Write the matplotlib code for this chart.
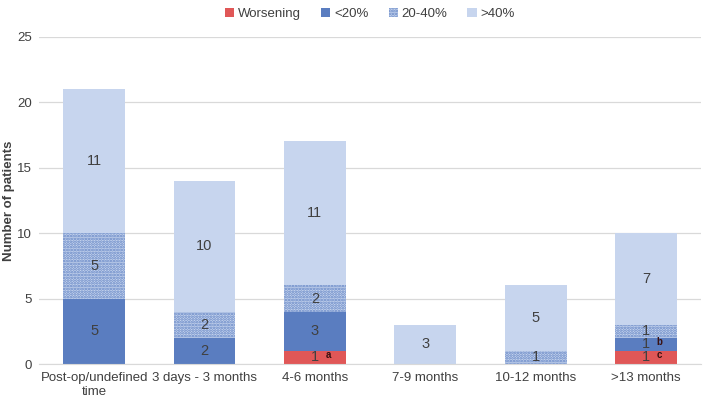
import matplotlib.pyplot as plt
import numpy as np

# chart data
categories = ["Post-op/undefined\ntime", "3 days - 3 months", "4-6 months",
              "7-9 months", "10-12 months", ">13 months"]
worsening = [0, 0, 1, 0, 0, 1]
under20 = [5, 2, 3, 0, 0, 1]
mid20_40 = [5, 2, 2, 0, 1, 1]
over40 = [11, 10, 11, 3, 5, 7]
notes = {(0, 2): "a", (1, 5): "b", (0, 5): "c"}  # (series, category): superscript

series = [worsening, under20, mid20_40, over40]
names = ["Worsening", "<20%", "20-40%", ">40%"]
colors = ["#E05757", "#5A7DC0", "#C7D5EE", "#C7D5EE"]

plt.rcParams['font.family'] = ['Liberation Sans', 'DejaVu Sans']
plt.rcParams['hatch.linewidth'] = 1.3
fig = plt.figure(figsize=(7.09, 4.04), dpi=100)
ax = fig.add_axes([0.055, 0.099, 0.934, 0.81])

x = np.arange(len(categories))
w = 0.56
bottom = np.zeros(len(categories))
for i, vals in enumerate(series):
    vals = np.array(vals)
    if i == 2:
        ax.bar(x, vals, w, bottom=bottom, color="#C7D5EE", edgecolor="#6384C4",
               hatch="......", linewidth=0, label=names[i], zorder=2)
    else:
        ax.bar(x, vals, w, bottom=bottom, color=colors[i], linewidth=0,
               label=names[i], zorder=2)
    for j, v in enumerate(vals):
        if v > 0:
            yc = bottom[j] + v / 2
            ax.text(x[j], yc, str(v), ha="center", va="center", fontsize=10.5,
                    color="#404040", zorder=3)
            if (i, j) in notes:
                ax.text(x[j] + 0.12, yc + 0.18, notes[(i, j)], ha="center", va="center",
                        fontsize=7, fontweight="bold", color="#3a1010", zorder=3)
    bottom += vals

ax.set_xlim(-0.5, len(categories) - 0.5)
ax.set_ylim(0, 25)
ax.set_yticks(range(0, 26, 5))
ax.set_xticks(x)
ax.set_xticklabels(categories, fontsize=9.5, color="#404040")
ax.tick_params(axis="y", labelsize=9.5, colors="#404040", length=0, pad=5)
ax.tick_params(axis="x", length=0, pad=6)
ax.grid(axis="y", color="#D9D9D9", linewidth=0.9, zorder=0)
for s in ["top", "right", "left"]:
    ax.spines[s].set_visible(False)
ax.spines["bottom"].set_color("#D9D9D9")
ax.set_ylabel("Number of patients", fontsize=9.5, fontweight="bold", color="#404040")
ax.yaxis.set_label_coords(-0.036, 0.5)

ax.legend(loc="upper center", bbox_to_anchor=(0.5, 1.125), ncol=4, frameon=False,
          fontsize=9.5, handlelength=0.7, handleheight=0.7, columnspacing=1.5,
          handletextpad=0.3, labelcolor="#404040")

fig.savefig("out.png", dpi=100)
